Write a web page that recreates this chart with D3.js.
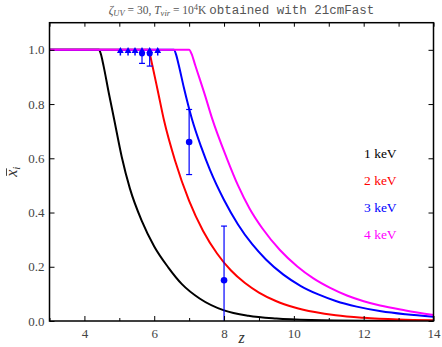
<!DOCTYPE html>
<html>
<head>
<meta charset="utf-8">
<script src="https://cdn.jsdelivr.net/npm/d3@7"></script>
<style>
  body { margin: 0; background: #fff; }
  svg { display: block; }
</style>
</head>
<body>
<div id="chart-area"></div>
<script>
// ---- data ----
var seriesNames = ["1 keV", "2 keV", "3 keV", "4 keV"];
var seriesColors = ["#000000", "#ff0000", "#0000ff", "#ff00ff"];

var z1 = [3, 4.42, 4.47, 4.55, 4.7, 4.85, 5.07, 5.3, 5.64, 6.0, 6.4, 6.8, 7.3, 8.0, 8.7, 9.5, 10.5, 12, 14];
var xi1 = [1, 1, 0.985, 0.94, 0.84, 0.745, 0.605, 0.49, 0.37, 0.275, 0.198, 0.135, 0.083, 0.039, 0.019, 0.0089, 0.0034, 0.0008, 0.0001];

var z2 = [3, 5.82, 5.87, 5.95, 6.1, 6.28, 6.6, 7.0, 7.4, 7.8, 8.2, 8.6, 9.0, 9.5, 10.0, 10.6, 11.2, 12.0, 13.0, 14];
var xi2 = [1, 1, 0.985, 0.94, 0.85, 0.74, 0.59, 0.443, 0.332, 0.249, 0.186, 0.140, 0.105, 0.073, 0.051, 0.033, 0.021, 0.012, 0.0058, 0.003];

var z3 = [3, 6.57, 6.62, 6.7, 6.85, 7.08, 7.35, 7.6, 8.0, 8.4, 8.8, 9.2, 9.7, 10.2, 10.7, 11.2, 11.8, 12.5, 13.2, 14];
var xi3 = [1, 1, 0.985, 0.945, 0.86, 0.745, 0.64, 0.556, 0.446, 0.356, 0.284, 0.227, 0.171, 0.129, 0.098, 0.074, 0.053, 0.036, 0.025, 0.016];

var z4 = [3, 7.0, 7.07, 7.17, 7.46, 7.65, 8.08, 8.4, 8.73, 9.1, 9.6, 10.1, 10.56, 11.04, 11.52, 12.0, 12.47, 13.2, 14];
var xi4 = [1, 1, 0.985, 0.945, 0.83, 0.75, 0.60, 0.50, 0.415, 0.341, 0.262, 0.201, 0.157, 0.122, 0.094, 0.073, 0.057, 0.039, 0.022];

// lower limits (dark pixels)
var zLim = [5.03, 5.25, 5.45, 5.65, 5.87, 6.1];
var xiLim = [0.99, 0.99, 0.99, 0.99, 0.99, 0.99];
var limErrLow = [0, 0, 0, 0.95, 0.94, 0];

// measurements with error bars
var zPts = [7.0, 8.0];
var xiPts = [0.66, 0.15];
var xiPtsLow = [0.54, 0.0];
var xiPtsHigh = [0.78, 0.35];

var xTicks = [4, 6, 8, 10, 12, 14];
var yTicks = [0, 0.2, 0.4, 0.6, 0.8, 1.0];

// ---- layout ----
var outerWidth = 442;
var outerHeight = 347;
var margin = { left: 49.5, right: 8.5, top: 22.7, bottom: 26 };
var width = outerWidth - margin.left - margin.right;
var height = outerHeight - margin.top - margin.bottom;

var serif = "Liberation Serif, DejaVu Serif, serif";
var mono = "Liberation Mono, DejaVu Sans Mono, monospace";

var svg = d3.select("#chart-area")
  .append("svg")
  .attr("width", outerWidth)
  .attr("height", outerHeight);

var g = svg.append("g")
  .attr("transform", "translate(" + margin.left + "," + margin.top + ")");

var x = d3.scaleLinear().domain([3, 14]).range([0, width]);
var y = d3.scaleLinear().domain([0, 1.1]).range([height, 0]);

// clip
g.append("clipPath").attr("id", "clip")
  .append("rect").attr("width", width).attr("height", height);

// curves
var allSeries = [[z1, xi1], [z2, xi2], [z3, xi3], [z4, xi4]];
var line = d3.line()
  .x(function(d) { return x(d[0]); })
  .y(function(d) { return y(d[1]); })
  .curve(d3.curveMonotoneX);

var curves = g.append("g").attr("clip-path", "url(#clip)");
allSeries.forEach(function(s, i) {
  var pts = s[0].map(function(zz, j) { return [zz, s[1][j]]; });
  curves.append("path")
    .datum(pts)
    .attr("d", line)
    .attr("fill", "none")
    .attr("stroke", seriesColors[i])
    .attr("stroke-width", 2);
});

// lower limit markers
var tri = d3.symbol().type(d3.symbolTriangle).size(20);
zLim.forEach(function(zz, i) {
  var cx = x(zz), cy = y(xiLim[i]);
  if (limErrLow[i] > 0) {
    g.append("line")
      .attr("x1", cx).attr("x2", cx)
      .attr("y1", cy).attr("y2", y(limErrLow[i]))
      .attr("stroke", "#0000ff").attr("stroke-width", 1.2);
    g.append("line")
      .attr("x1", cx - 3).attr("x2", cx + 3)
      .attr("y1", y(limErrLow[i])).attr("y2", y(limErrLow[i]))
      .attr("stroke", "#0000ff").attr("stroke-width", 1.2);
    g.append("circle")
      .attr("cx", cx).attr("cy", cy + 1).attr("r", 3)
      .attr("fill", "#0000ff");
  }
  g.append("line")
    .attr("x1", cx).attr("x2", cx)
    .attr("y1", cy - 2).attr("y2", cy + 3)
    .attr("stroke", "#0000ff").attr("stroke-width", 1.5);
  g.append("path")
    .attr("d", tri)
    .attr("transform", "translate(" + cx + "," + (cy - 1.5) + ")")
    .attr("fill", "#0000ff");
});

// measured points with error bars
zPts.forEach(function(zz, i) {
  var cx = x(zz);
  g.append("line")
    .attr("x1", cx).attr("x2", cx)
    .attr("y1", y(xiPtsLow[i])).attr("y2", y(xiPtsHigh[i]))
    .attr("stroke", "#0000ff").attr("stroke-width", 1.2);
  [xiPtsLow[i], xiPtsHigh[i]].forEach(function(v) {
    if (v > 0) {
      g.append("line")
        .attr("x1", cx - 3).attr("x2", cx + 3)
        .attr("y1", y(v)).attr("y2", y(v))
        .attr("stroke", "#0000ff").attr("stroke-width", 1.2);
    }
  });
  g.append("circle")
    .attr("cx", cx).attr("cy", y(xiPts[i])).attr("r", 3.3)
    .attr("fill", "#0000ff");
});

// axes (ticks pointing inward)
var minorX = d3.range(3, 15, 1);
var xAxisB = d3.axisBottom(x).tickValues(xTicks).tickSize(-5).tickPadding(8)
  .tickFormat(d3.format("d"));
var gxb = g.append("g").attr("transform", "translate(0," + height + ")").call(xAxisB);
var gxbm = g.append("g").attr("transform", "translate(0," + height + ")")
  .call(d3.axisBottom(x).tickValues(minorX.filter(function(v) { return v % 2 === 1; })).tickSize(-3).tickFormat(""));
var gxt = g.append("g")
  .call(d3.axisTop(x).tickValues(minorX).tickSize(-4).tickFormat(""));

var yAxisL = d3.axisLeft(y).tickValues(yTicks).tickSize(-5).tickPadding(5)
  .tickFormat(d3.format(".1f"));
var gyl = g.append("g").call(yAxisL);
var gyr = g.append("g").attr("transform", "translate(" + width + ",0)")
  .call(d3.axisRight(y).tickValues(yTicks).tickSize(-5).tickFormat(""));

[gxb, gxbm, gxt, gyl, gyr].forEach(function(ax) {
  ax.attr("font-family", serif).attr("font-size", 13);
  ax.select(".domain").remove();
  ax.selectAll(".tick line").attr("stroke", "#000").attr("stroke-width", 1);
  ax.selectAll("text").attr("fill", "#444");
});

// frame
g.append("rect")
  .attr("width", width).attr("height", height)
  .attr("fill", "none").attr("stroke", "#000").attr("stroke-width", 1.5);

// legend
seriesNames.forEach(function(name, i) {
  g.append("text")
    .attr("x", 364 - margin.left)
    .attr("y", 158 + i * 27 - margin.top)
    .attr("font-family", serif)
    .attr("font-size", "13.5px")
    .attr("fill", seriesColors[i])
    .text(name);
});

// title
var title = svg.append("text")
  .attr("x", margin.left + width / 2)
  .attr("y", 14)
  .attr("text-anchor", "middle")
  .attr("font-family", serif)
  .attr("font-size", "11.5px")
  .attr("fill", "#555");
title.append("tspan").attr("font-style", "italic").text("ζ");
title.append("tspan").attr("font-style", "italic").attr("font-size", "8.5px").attr("dy", 2).text("UV");
title.append("tspan").attr("dy", -2).text(" = 30, ");
title.append("tspan").attr("font-style", "italic").text("T");
title.append("tspan").attr("font-style", "italic").attr("font-size", "8.5px").attr("dy", 2).text("vir");
title.append("tspan").attr("dy", -2).text(" = 10");
title.append("tspan").attr("font-size", "8.5px").attr("dy", -4).text("4");
title.append("tspan").attr("dy", 4).text("K ");
title.append("tspan").attr("font-family", mono).attr("font-size", "12.5px").text("obtained with 21cmFast");

// axis labels
svg.append("text")
  .attr("x", margin.left + width / 2)
  .attr("y", 343)
  .attr("text-anchor", "middle")
  .attr("font-family", serif)
  .attr("font-style", "italic")
  .attr("font-size", "16px")
  .attr("fill", "#333")
  .text("z");

var yl = svg.append("g")
  .attr("transform", "translate(17," + (margin.top + height / 2 + 5) + ") rotate(-90)");
yl.append("text")
  .attr("font-family", serif)
  .attr("font-style", "italic")
  .attr("font-size", "16px")
  .attr("fill", "#333")
  .text("x")
  .append("tspan").attr("font-size", "11px").attr("dy", 3).text("i");
yl.append("line")
  .attr("x1", 1).attr("x2", 8.5)
  .attr("y1", -10.5).attr("y2", -10.5)
  .attr("stroke", "#333").attr("stroke-width", 0.9);
</script>
</body>
</html>
